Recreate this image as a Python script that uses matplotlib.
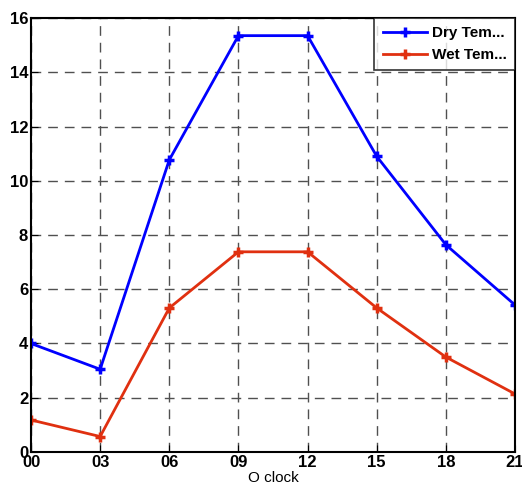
import numpy as np
import matplotlib.pyplot as plt

plt.rcParams['font.family'] = ['Liberation Sans', 'DejaVu Sans']

# Hours of the day
hours = [0, 3, 6, 9, 12, 15, 18, 21]
hour_labels = ['00', '03', '06', '09', '12', '15', '18', '21']

# Temperatures
dry_temp = [4.0, 3.05, 10.77, 15.35, 15.35, 10.9, 7.64, 5.42]
wet_temp = [1.18, 0.57, 5.31, 7.38, 7.38, 5.31, 3.5, 2.14]

fig = plt.figure(figsize=(5.22, 4.95), dpi=100)
ax = fig.add_axes([0.0594, 0.0869, 0.9272, 0.8767])

ax.plot(hours, dry_temp, color='#0000ff', lw=2, marker='+', ms=7, mew=2.5,
        label='Dry Tem...')
ax.plot(hours, wet_temp, color='#e03010', lw=2, marker='+', ms=7, mew=2.5,
        label='Wet Tem...')

ax.set_xlim(0, 21)
ax.set_ylim(0, 16)
ax.set_xticks(hours)
ax.set_xticklabels(hour_labels)
ax.set_yticks(range(0, 17, 2))
ax.tick_params(direction='in', length=5, labelsize=12, pad=2)
for lab in ax.get_xticklabels() + ax.get_yticklabels():
    lab.set_fontweight('bold')
ax.grid(True, linestyle=(0, (7, 5)), color='#505050', lw=1)
for s in ax.spines.values():
    s.set_linewidth(1.5)

ax.set_xlabel('O clock', fontsize=11, labelpad=1)

leg = ax.legend(loc='upper right', fancybox=False, edgecolor='black',
                borderaxespad=0, handlelength=2.9, handletextpad=0.3,
                borderpad=0.55, labelspacing=0.5,
                prop={'weight': 'bold', 'size': 11})
leg.get_frame().set_linewidth(1.2)

fig.savefig('out.png')
